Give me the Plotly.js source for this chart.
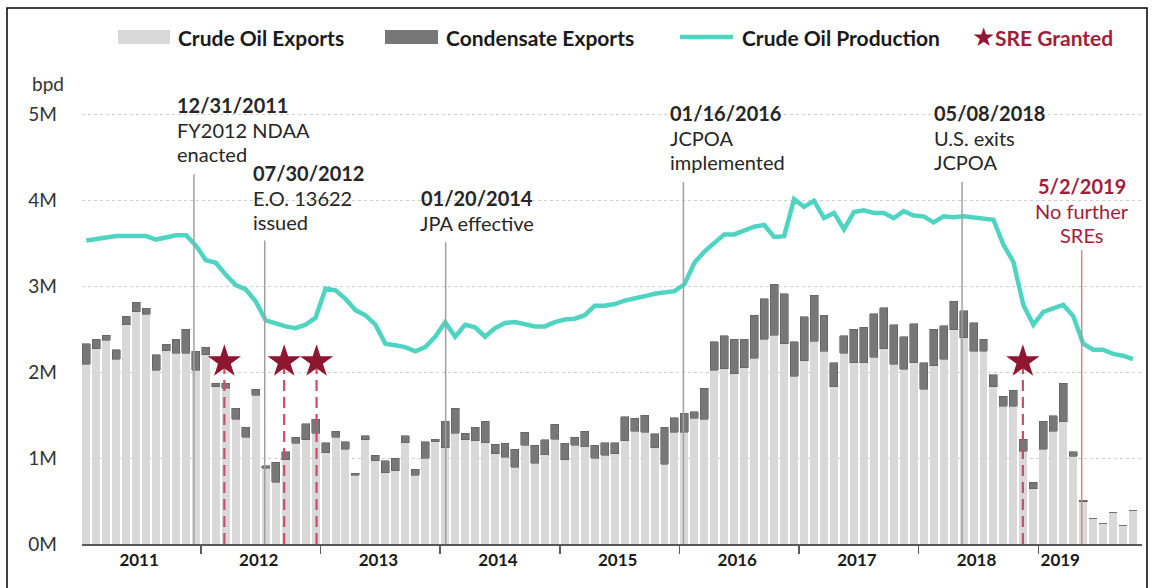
<!DOCTYPE html>
<html><head><meta charset="utf-8">
<script src="https://cdn.plot.ly/plotly-3.0.1.min.js"></script>
<style>html,body{margin:0;padding:0;background:#fff;}#chart{width:1153px;height:588px;}</style>
</head><body><div id="chart"></div>
<script>
// Monthly data, Jan 2011 .. Oct 2019 (million bpd)
const years = ['2011','2012','2013','2014','2015','2016','2017','2018','2019'];
const crudeExports = [
 2.09,2.27,2.37,2.15,2.55,2.70,2.67,2.02,2.25,2.22,2.22,2.02,
 2.20,1.83,1.81,1.45,1.24,1.73,0.88,0.72,0.98,1.17,1.21,1.29,
 1.06,1.24,1.10,0.80,1.21,0.97,0.83,0.85,1.18,0.80,1.00,1.19,
 1.12,1.29,1.21,1.20,1.18,1.05,1.01,0.89,1.15,0.94,1.04,1.22,
 0.98,1.15,1.13,1.00,1.03,1.05,1.20,1.31,1.30,1.12,0.93,1.30,
 1.30,1.46,1.45,2.02,2.04,1.98,2.05,2.16,2.38,2.43,2.33,1.95,
 2.13,2.36,2.24,1.83,2.22,2.11,2.11,2.17,2.27,2.09,2.03,2.11,
 1.80,2.07,2.15,2.49,2.40,2.24,2.24,1.83,1.60,1.60,1.08,0.64,
 1.10,1.31,1.42,1.02,0.49,0.30,0.24,0.37,0.21,0.39];
const condensateExports = [
 0.24,0.11,0.06,0.11,0.10,0.11,0.07,0.18,0.07,0.16,0.28,0.22,
 0.09,0.04,0.06,0.13,0.12,0.07,0.03,0.23,0.09,0.07,0.19,0.16,
 0.12,0.07,0.09,0.02,0.05,0.06,0.14,0.15,0.08,0.07,0.19,0.03,
 0.31,0.29,0.08,0.16,0.25,0.11,0.16,0.21,0.15,0.21,0.17,0.17,
 0.19,0.09,0.18,0.15,0.15,0.13,0.28,0.15,0.20,0.16,0.43,0.17,
 0.22,0.08,0.36,0.33,0.38,0.40,0.33,0.50,0.47,0.59,0.58,0.40,
 0.51,0.53,0.42,0.28,0.20,0.39,0.41,0.51,0.48,0.46,0.38,0.45,
 0.31,0.43,0.39,0.33,0.31,0.33,0.14,0.14,0.12,0.19,0.14,0.08,
 0.33,0.18,0.45,0.05,0.02,0,0,0,0,0];
const crudeProduction = [
 3.53,3.55,3.57,3.58,3.58,3.58,3.58,3.54,3.57,3.59,3.59,3.47,
 3.30,3.27,3.13,3.01,2.96,2.82,2.60,2.56,2.53,2.51,2.55,2.63,
 2.97,2.95,2.85,2.72,2.66,2.55,2.33,2.31,2.29,2.24,2.29,2.41,
 2.58,2.41,2.55,2.52,2.41,2.51,2.57,2.58,2.56,2.53,2.53,2.58,
 2.61,2.62,2.66,2.77,2.77,2.79,2.83,2.85,2.88,2.91,2.92,2.94,
 3.02,3.27,3.40,3.50,3.60,3.60,3.65,3.69,3.71,3.57,3.58,4.01,
 3.92,3.99,3.79,3.85,3.66,3.86,3.88,3.85,3.85,3.79,3.87,3.82,
 3.81,3.74,3.81,3.80,3.81,3.80,3.79,3.77,3.48,3.28,2.78,2.55,
 2.70,2.74,2.78,2.65,2.33,2.26,2.26,2.21,2.19,2.15];
// SRE grant positions (month index) and marker level (M bpd)
const sreGranted = [13.85, 19.85, 23.1, 93.95];
const sreLevel = 2.12;
// Policy events: month-index position
const eventDates = ['12/31/2011','07/30/2012','01/20/2014','01/16/2016','05/08/2018'];
const eventNotes = [['FY2012 NDAA','enacted'],['E.O. 13622','issued'],['JPA effective'],['JCPOA','implemented'],['U.S. exits','JCPOA']];
const eventX = [10.8, 17.9, 36.05, 59.9, 87.85];
const endDate = '5/2/2019';
const endNotes = ['No further','SREs'];
const endX = 99.85;
const yTicks = [0,1,2,3,4,5];
const yTickText = ['0M','1M','2M','3M','4M','5M'];

const monthIdx = crudeExports.map((_, i) => i);
const FONT = 'Lato, "Open Sans", sans-serif';
const RED = '#8e1630', RED_TXT = '#a01e3a', TEAL = '#4fd4c1';

// pixel helpers for decorative placement
const L = 82, R = 1142, T = 60, B = 544;
const px = x => (x - L) / (R - L);
const py = y => (B - y) / (B - T);
const yr = [0, (B - T) / 86];
const xr = [-0.43, 105.9];

const traces = [
 {type:'bar', x:monthIdx, y:crudeExports, width:0.8, name:'Crude Oil Exports',
  marker:{color:'#d9d9d9'}, hoverinfo:'y'},
 {type:'bar', x:monthIdx, y:condensateExports, width:0.8, name:'Condensate Exports',
  marker:{color:'#777777', line:{color:'#5e5e5e', width:0.6}}, hoverinfo:'y'},
 {type:'scatter', mode:'lines', x:monthIdx, y:crudeProduction, name:'Crude Oil Production',
  line:{color:TEAL, width:4.5}}
];
sreGranted.forEach(s => traces.push({type:'scatter', mode:'lines', x:[s, s], y:[0, sreLevel],
  line:{color:'#c4506a', width:2.2, dash:'11px,6px'}, hoverinfo:'skip', showlegend:false}));
traces.push({type:'scatter', mode:'markers', x:sreGranted, y:sreGranted.map(() => sreLevel),
  name:'SRE Granted', marker:{symbol:'star', size:25, color:RED, line:{width:0}}});

const shapes = [];
const annotations = [];
// frame
shapes.push({type:'rect', xref:'paper', yref:'paper', x0:px(7), x1:px(1147), y0:py(600), y1:py(8),
  line:{color:'#000', width:1.5}, fillcolor:'rgba(0,0,0,0)', layer:'below'});
// event lines
const eventTop = [4.30, 3.53, 3.51, 4.21, 4.21];
eventX.forEach((x, i) => shapes.push({type:'line', xref:'x', yref:'y', x0:x, x1:x, y0:0, y1:eventTop[i],
  line:{color:'#a0a0a0', width:1.5}}));
shapes.push({type:'line', xref:'x', yref:'y', x0:endX, x1:endX, y0:0, y1:3.42,
  line:{color:'#cf8593', width:1.5}});
// event labels
const labelPos = [
 {x:8.9, y:5.10, a:'left'}, {x:16.5, y:4.31, a:'left'}, {x:39.2, y:4.02, a:'center'},
 {x:58.4, y:5.01, a:'left'}, {x:84.84, y:5.01, a:'left'}];
const step = 0.285;
eventDates.forEach((d, i) => {
  const p = labelPos[i];
  [ '<b>' + d + '</b>' ].concat(eventNotes[i]).forEach((t, j) => annotations.push({
    xref:'x', yref:'y', x:p.x, y:p.y - j*step, text:t, showarrow:false, xanchor:p.a, yanchor:'middle',
    font:{family:FONT, size:20, color:'#262626'}}));
});
['<b>' + endDate + '</b>'].concat(endNotes).forEach((t, j) => annotations.push({
  xref:'x', yref:'y', x:endX, y:4.16 - j*step, text:t, showarrow:false, xanchor:'center', yanchor:'middle',
  font:{family:FONT, size:20, color:RED_TXT}}));
// bpd
annotations.push({xref:'paper', yref:'paper', x:px(30), y:py(83), text:'bpd', showarrow:false,
  xanchor:'left', yanchor:'middle', font:{family:FONT, size:19, color:'#333'}});
// manual legend
shapes.push({type:'rect', xref:'paper', yref:'paper', x0:px(118), x1:px(170), y0:py(44), y1:py(30),
  fillcolor:'#d9d9d9', line:{width:0}});
shapes.push({type:'rect', xref:'paper', yref:'paper', x0:px(385), x1:px(438), y0:py(44), y1:py(30),
  fillcolor:'#777777', line:{width:0}});
shapes.push({type:'line', xref:'paper', yref:'paper', x0:px(680), x1:px(733), y0:py(37), y1:py(37),
  line:{color:TEAL, width:4.5}});
annotations.push({xref:'paper', yref:'paper', x:px(983), y:py(37), text:'★', showarrow:false,
  xanchor:'center', yanchor:'middle', font:{family:'DejaVu Sans', size:26, color:RED}});
[['Crude Oil Exports',176,'#1a1a1a'],['Condensate Exports',444,'#1a1a1a'],
 ['Crude Oil Production',740,'#1a1a1a'],['SRE Granted',993,RED_TXT]].forEach(([t, x, c]) =>
  annotations.push({xref:'paper', yref:'paper', x:px(x), y:py(37), text:'<b>' + t + '</b>', showarrow:false,
    xanchor:'left', yanchor:'middle', font:{family:FONT, size:21, color:c}}));

const yearCenters = years.map((_, i) => i < 8 ? 12*i + 5.3 : 97.7);

const layout = {
  width:1153, height:588, margin:{l:L, r:1153-R, t:T, b:588-B},
  paper_bgcolor:'#fff', plot_bgcolor:'#fff', barmode:'stack', showlegend:false,
  font:{family:FONT, color:'#333'},
  xaxis:{range:xr, showgrid:false, zeroline:false, showline:true, linecolor:'#595959', linewidth:1.5,
    tickmode:'array', tickvals:yearCenters, ticktext:years.map(y => '<b>' + y + '</b>'), ticks:'',
    tickfont:{family:FONT, size:17, color:'#1a1a1a'},
    minor:{tickmode:'linear', tick0:-0.5, dtick:12, ticks:'outside', ticklen:8, tickwidth:1.5, tickcolor:'#595959', showgrid:false}},
  yaxis:{range:yr, tickmode:'array', tickvals:yTicks, ticktext:yTickText, showline:false, zeroline:false,
    gridcolor:'#cfcfcf', griddash:'dot', gridwidth:1, ticks:'', ticklabelstandoff:24,
    tickfont:{family:FONT, size:19, color:'#333'}},
  shapes, annotations
};
Plotly.newPlot('chart', traces, layout, {displayModeBar:false, staticPlot:true});
</script></body></html>
